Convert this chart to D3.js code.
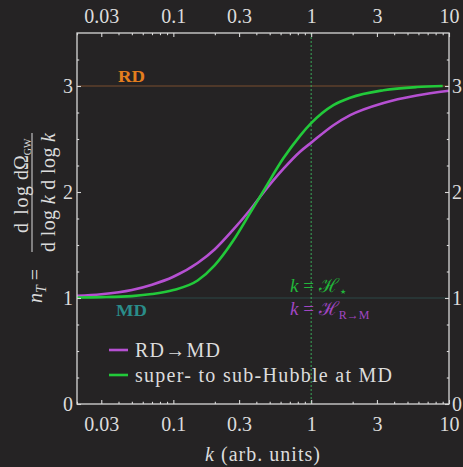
<!DOCTYPE html>
<html><head><meta charset="utf-8">
<script src="https://cdn.jsdelivr.net/npm/d3@7"></script>
<style>
html,body{margin:0;padding:0;background:#252324;}
svg{display:block;}
text{font-family:"Liberation Serif","Times New Roman",serif;fill:#dcdcdc;}
</style></head>
<body>
<svg id="c" width="463" height="467"></svg>
<script>
// ---- data ----
const kPurple   = [0.02, 0.03, 0.05, 0.07, 0.1, 0.15, 0.2, 0.27, 0.36, 0.46, 0.63, 0.83, 1, 1.45, 1.92, 3.35, 5.83, 10];
const rdToMd    = [1.02, 1.035, 1.075, 1.125, 1.20, 1.33, 1.46, 1.64, 1.83, 2.01, 2.22, 2.38, 2.465, 2.63, 2.725, 2.84, 2.91, 2.955];
const kGreen    = [0.02, 0.03, 0.05, 0.07, 0.1, 0.15, 0.2, 0.27, 0.36, 0.46, 0.63, 0.83, 1, 1.45, 1.92, 3.35, 5.83, 9];
const superSub  = [1.005, 1.008, 1.018, 1.037, 1.075, 1.165, 1.31, 1.535, 1.80, 2.03, 2.32, 2.53, 2.65, 2.82, 2.89, 2.96, 2.99, 3.0];
const seriesNames = ["RD\u2192MD", "super- to sub-Hubble at MD"];
const xMajorTicks = [0.03, 0.1, 0.3, 1, 3, 10];
const xTickLabels = ["0.03", "0.1", "0.3", "1", "3", "10"];
const xMinorTicks = [0.02,0.04,0.05,0.06,0.07,0.08,0.09,0.2,0.4,0.5,0.6,0.7,0.8,0.9,2,4,5,6,7,8,9];
const yMajorTicks = [0, 1, 2, 3];
const yMinorTicks = [0.25,0.5,0.75,1.25,1.5,1.75,2.25,2.5,2.75,3.25];
const refLevels = [3, 1];
const refLabels = ["RD", "MD"];
const kStar = 1;

// ---- styles ----
const C = {axis:"#d8d8d8", purple:"#b650d2", green:"#22c93a", rd:"#e47e1e", md:"#2a8c89",
           line3:"#7a4f2e", line1:"#2c4846", vline:"#3aa858", purpleTxt:"#a046c2", greenTxt:"#22b53a"};

const svg = d3.select("#c");
const L=77, R=449, T=33, B=404;
const x = d3.scaleLog().domain([0.02, 10]).range([L, R]);
const y = d3.scaleLinear().domain([0, 3.5]).range([B, T]);

// reference lines
svg.append("line").attr("x1",L).attr("x2",R).attr("y1",y(refLevels[0])).attr("y2",y(refLevels[0]))
  .attr("stroke",C.line3).attr("stroke-width",1.2);
svg.append("line").attr("x1",L).attr("x2",R).attr("y1",y(refLevels[1])).attr("y2",y(refLevels[1]))
  .attr("stroke",C.line1).attr("stroke-width",1.2);
svg.append("line").attr("x1",x(kStar)).attr("x2",x(kStar)).attr("y1",T).attr("y2",B)
  .attr("stroke",C.vline).attr("stroke-width",1).attr("stroke-dasharray","2,2");

// curves
const line = d3.line().x(d=>x(d[0])).y(d=>y(d[1])).curve(d3.curveMonotoneX);
svg.append("path").datum(kPurple.map((k,i)=>[k, rdToMd[i]])).attr("d",line)
  .attr("fill","none").attr("stroke",C.purple).attr("stroke-width",2.6);
svg.append("path").datum(kGreen.map((k,i)=>[k, superSub[i]])).attr("d",line)
  .attr("fill","none").attr("stroke",C.green).attr("stroke-width",2.6);

// frame
svg.append("rect").attr("x",L).attr("y",T).attr("width",R-L).attr("height",B-T)
  .attr("fill","none").attr("stroke",C.axis).attr("stroke-width",1.3);

function styleAxis(g){
  g.select(".domain").remove();
  g.selectAll(".tick line").attr("stroke",C.axis).attr("stroke-width",1.1);
  g.selectAll(".tick text").attr("fill","#dcdcdc").style("font-size","20px")
   .style("font-family","'Liberation Serif',serif");
}
const fmtX = d => xTickLabels[xMajorTicks.indexOf(d)];
svg.append("g").attr("transform",`translate(0,${B})`)
  .call(d3.axisBottom(x).tickValues(xMajorTicks).tickFormat(fmtX).tickSize(-4).tickPadding(13)).call(styleAxis);
svg.append("g").attr("transform",`translate(0,${T})`)
  .call(d3.axisTop(x).tickValues(xMajorTicks).tickFormat(fmtX).tickSize(-4).tickPadding(10)).call(styleAxis);
svg.append("g").attr("transform",`translate(0,${B})`)
  .call(d3.axisBottom(x).tickValues(xMinorTicks).tickFormat("").tickSize(-2.2)).call(styleAxis);
svg.append("g").attr("transform",`translate(0,${T})`)
  .call(d3.axisTop(x).tickValues(xMinorTicks).tickFormat("").tickSize(-2.2)).call(styleAxis);
svg.append("g").attr("transform",`translate(${L},0)`)
  .call(d3.axisLeft(y).tickValues(yMajorTicks).tickFormat(d3.format("d")).tickSize(-4).tickPadding(4)).call(styleAxis);
svg.append("g").attr("transform",`translate(${R},0)`)
  .call(d3.axisRight(y).tickValues(yMajorTicks).tickFormat(d3.format("d")).tickSize(-4).tickPadding(3)).call(styleAxis);
svg.append("g").attr("transform",`translate(${L},0)`)
  .call(d3.axisLeft(y).tickValues(yMinorTicks).tickFormat("").tickSize(-2.2)).call(styleAxis);
svg.append("g").attr("transform",`translate(${R},0)`)
  .call(d3.axisRight(y).tickValues(yMinorTicks).tickFormat("").tickSize(-2.2)).call(styleAxis);

// RD / MD labels
svg.append("text").attr("x",118).attr("y",y(refLevels[0])-4.5).text(refLabels[0])
  .style("font-weight","bold").style("font-size","17px").style("fill",C.rd)
  .attr("textLength",27).attr("lengthAdjust","spacingAndGlyphs");
svg.append("text").attr("x",116).attr("y",y(refLevels[1])+18).text(refLabels[1])
  .style("font-weight","bold").style("font-size","17px").style("fill",C.md)
  .attr("textLength",31).attr("lengthAdjust","spacingAndGlyphs");

// k = H labels
const t1 = svg.append("text").attr("x",290).attr("y",292).style("font-size","19px").style("fill",C.greenTxt);
t1.append("tspan").text("k").style("font-style","italic");
t1.append("tspan").text(" = ");
t1.append("tspan").text("\u210B");
t1.append("tspan").text("\u2605").style("font-size","7px").attr("dy",2).attr("dx",1);
const t2 = svg.append("text").attr("x",290).attr("y",315).style("font-size","19px").style("fill",C.purpleTxt);
t2.append("tspan").text("k").style("font-style","italic");
t2.append("tspan").text(" = ");
t2.append("tspan").text("\u210B");
t2.append("tspan").text("R\u2192M").style("font-size","12px").attr("dy",4);

// legend
const legColors = [C.purple, C.green];
const leg = svg.append("g");
seriesNames.forEach((name,i)=>{
  const yy = 350 + i*25;
  leg.append("line").attr("x1",109).attr("x2",128).attr("y1",yy).attr("y2",yy)
    .attr("stroke",legColors[i]).attr("stroke-width",2.6);
  leg.append("text").attr("x",135).attr("y",yy+7).text(name).style("font-size","20px")
    .attr("textLength", i===0 ? 85 : 257).attr("lengthAdjust","spacing");
});

// x axis label
const xl = svg.append("text").attr("x",205).attr("y",461).style("font-size","20px")
  .attr("textLength",115).attr("lengthAdjust","spacing");
xl.append("tspan").text("k").style("font-style","italic");
xl.append("tspan").text(" (arb. units)");

// y axis label (rotated)
const yl = svg.append("g").attr("transform","rotate(-90)");
const nt = yl.append("text").attr("x",-303).attr("y",42).style("font-size","20px");
nt.append("tspan").text("n").style("font-style","italic");
nt.append("tspan").text("T").style("font-style","italic").style("font-size","14px").attr("dy",4);
nt.append("tspan").text(" =").attr("dy",-4);
yl.append("line").attr("x1",-252).attr("x2",-133).attr("y1",32).attr("y2",32)
  .attr("stroke","#dcdcdc").attr("stroke-width",1);
yl.append("text").attr("x",-233).attr("y",28).style("font-size","20px").text("d log")
  .attr("textLength",47).attr("lengthAdjust","spacing");
const nm = yl.append("text").attr("x",-180).attr("y",28).style("font-size","20px");
nm.append("tspan").text("d\u03A9");
nm.append("tspan").text("GW").style("font-size","10px").attr("dy",3);
const dn = yl.append("text").attr("x",-252).attr("y",55).style("font-size","20px");
dn.attr("textLength",119).attr("lengthAdjust","spacing");
dn.append("tspan").text("d log ");
dn.append("tspan").text("k").style("font-style","italic");
dn.append("tspan").text(" d log ");
dn.append("tspan").text("k").style("font-style","italic");
</script>
</body></html>
